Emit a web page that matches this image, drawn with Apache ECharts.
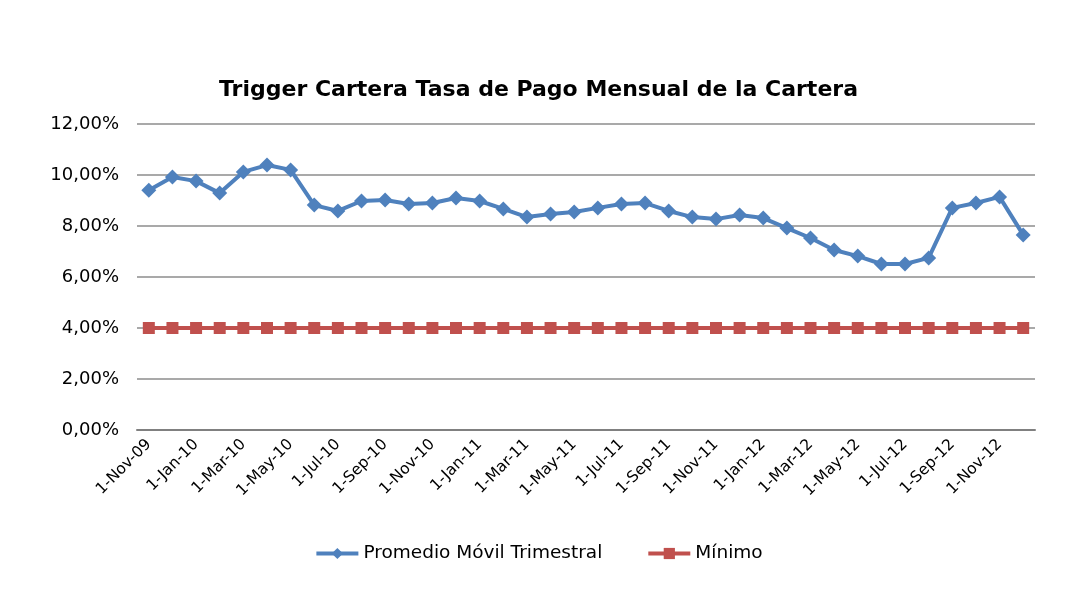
<!DOCTYPE html>
<html>
<head>
<meta charset="utf-8">
<script src="https://cdn.jsdelivr.net/npm/echarts@6/dist/echarts.min.js"></script>
<style>
    html, body { margin: 0; padding: 0; background: #fff; }
    #trigger_chart { width: 1077px; height: 610px; }
</style>
</head>
<body>
<div id="trigger_chart"></div>
<script>
var months = [
    '1-Nov-09', '1-Dec-09',
    '1-Jan-10', '1-Feb-10', '1-Mar-10', '1-Apr-10', '1-May-10', '1-Jun-10',
    '1-Jul-10', '1-Aug-10', '1-Sep-10', '1-Oct-10', '1-Nov-10', '1-Dec-10',
    '1-Jan-11', '1-Feb-11', '1-Mar-11', '1-Apr-11', '1-May-11', '1-Jun-11',
    '1-Jul-11', '1-Aug-11', '1-Sep-11', '1-Oct-11', '1-Nov-11', '1-Dec-11',
    '1-Jan-12', '1-Feb-12', '1-Mar-12', '1-Apr-12', '1-May-12', '1-Jun-12',
    '1-Jul-12', '1-Aug-12', '1-Sep-12', '1-Oct-12', '1-Nov-12', '1-Dec-12'
];

// promedio movil trimestral (%)
var promedio = [
    9.40, 9.92, 9.76, 9.29, 10.12, 10.39, 10.20, 8.82,
    8.59, 8.98, 9.02, 8.86, 8.90, 9.10,
    8.98, 8.67, 8.35, 8.47, 8.55, 8.71,
    8.86, 8.90, 8.59, 8.35, 8.27, 8.43,
    8.31, 7.92, 7.53, 7.06, 6.82, 6.51,
    6.51, 6.75, 8.71, 8.90, 9.14, 7.65
];

// minimo (%)
var minimo = [
    4, 4, 4, 4, 4, 4, 4, 4, 4, 4, 4, 4, 4, 4,
    4, 4, 4, 4, 4, 4, 4, 4, 4, 4, 4, 4,
    4, 4, 4, 4, 4, 4, 4, 4, 4, 4, 4, 4
];

var FONT = 'DejaVu Sans';

var chart = echarts.init(document.getElementById('trigger_chart'));

var option = {
    animation: false,
    title: {
        text: 'Trigger Cartera Tasa de Pago Mensual de la Cartera',
        left: 'center',
        top: 74,
        textStyle: {
            fontSize: 22,
            fontWeight: 'bold',
            color: '#000',
            fontFamily: FONT
        }
    },
    legend: {
        top: 539,
        left: 'center',
        itemWidth: 42,
        itemHeight: 14,
        itemGap: 44,
        lineStyle: { width: 4 },
        textStyle: {
            fontSize: 18.5,
            color: '#000',
            fontFamily: FONT
        },
        data: [
            { name: 'Promedio Móvil Trimestral' },
            { name: 'Mínimo' }
        ]
    },
    grid: {
        left: 137,
        right: 42,
        top: 124,
        bottom: 180
    },
    xAxis: {
        type: 'category',
        data: months,
        boundaryGap: true,
        axisTick: { show: false },
        axisLine: {
            lineStyle: { color: '#808080', width: 2 }
        },
        axisLabel: {
            interval: 1,
            rotate: 45,
            fontSize: 15.5,
            color: '#000',
            fontFamily: FONT,
            margin: 12
        }
    },
    yAxis: {
        type: 'value',
        min: 0,
        max: 12,
        interval: 2,
        axisLine: { show: false },
        axisTick: { show: false },
        axisLabel: {
            fontSize: 18,
            color: '#000',
            fontFamily: FONT,
            margin: 18,
            formatter: function (v) {
                return v.toFixed(2).replace('.', ',') + '%';
            }
        },
        splitLine: {
            lineStyle: { color: '#8c8c8c', width: 1.5 }
        }
    },
    series: [
        {
            name: 'Promedio Móvil Trimestral',
            type: 'line',
            data: promedio,
            symbol: 'diamond',
            symbolSize: 15,
            itemStyle: { color: '#4F81BD' },
            lineStyle: { color: '#4F81BD', width: 4 }
        },
        {
            name: 'Mínimo',
            type: 'line',
            data: minimo,
            symbol: 'rect',
            symbolSize: 12,
            itemStyle: { color: '#C0504D' },
            lineStyle: { color: '#C0504D', width: 4 }
        }
    ]
};

chart.setOption(option);

window.addEventListener('resize', function () {
    chart.resize();
});
</script>
</body>
</html>
